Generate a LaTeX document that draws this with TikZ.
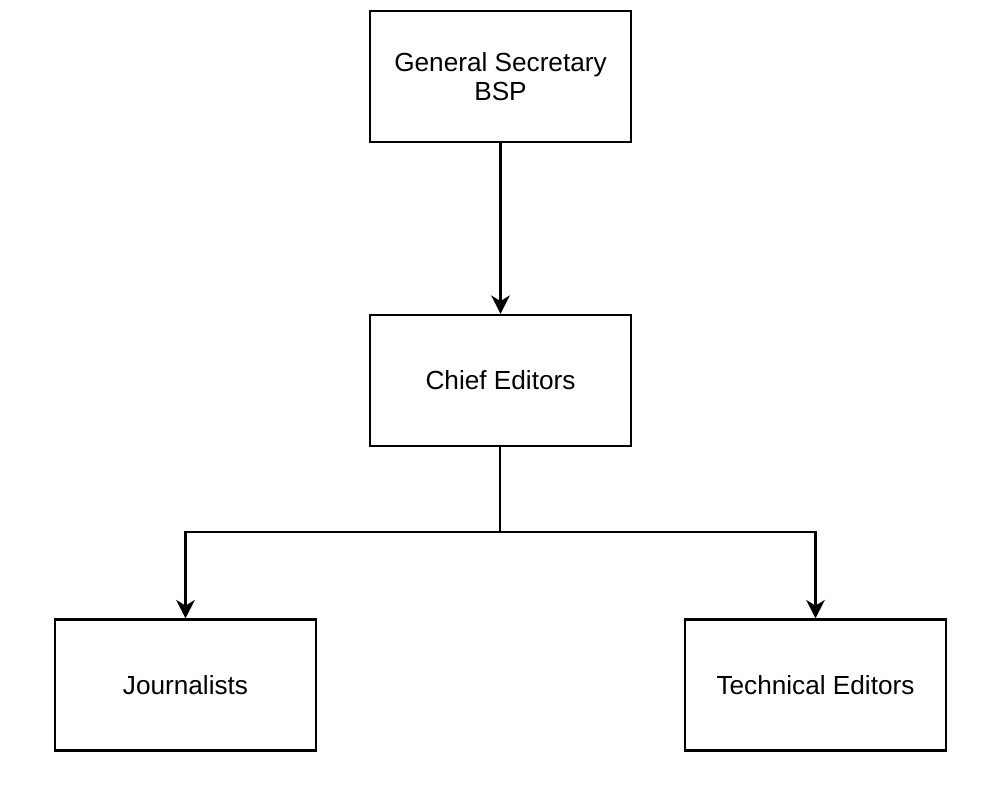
\documentclass[tikz,border=0pt]{standalone}
\usepackage{fontspec}
\setmainfont{Liberation Sans}
\usetikzlibrary{positioning,arrows.meta,calc}

\begin{document}
\begin{tikzpicture}[
  every node/.style={font=\fontsize{14.9}{16.6}\selectfont},
  unit/.style={draw,line width=1.2pt,minimum width=5.22cm,minimum height=2.62cm,align=center,inner sep=0pt},
  link/.style={line width=1.2pt},
  >={Stealth[length=10.5pt,width=10.5pt,inset=3.2pt]} ]
  \useasboundingbox (0,0) rectangle (20.02,-16.14);

  \node[unit] (gs)   at (10.01,-1.53)  {General Secretary\\BSP};
  \node[unit] (chief) at (10.01,-7.61) {Chief Editors};
  \node[unit] (jour) at (3.71,-13.70)  {Journalists};
  \node[unit] (tech) at (16.31,-13.70) {Technical Editors};

  \coordinate (split) at (10.0,-10.64);

  \draw[link,->] (gs) -- (chief);
  \draw[link] (chief.south -| split) -- (split);
  \draw[link,->] (split) -| (jour);
  \draw[link,->] (split) -| (tech);
\end{tikzpicture}
\end{document}
